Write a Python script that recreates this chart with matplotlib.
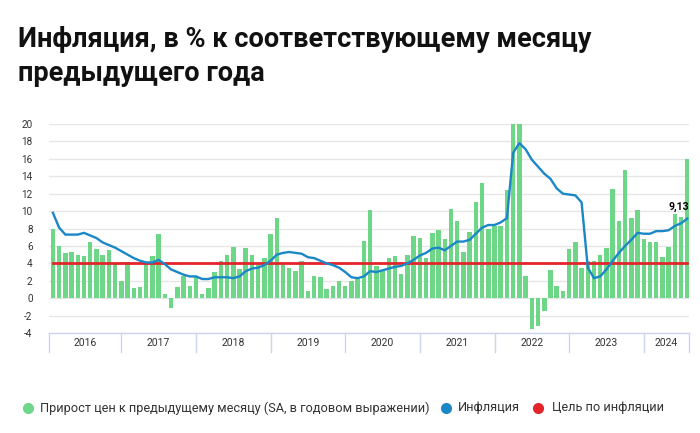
import matplotlib
matplotlib.use("Agg")
import matplotlib.pyplot as plt
from matplotlib.lines import Line2D
import matplotlib.transforms as mtransforms
import numpy as np

years = ["2016", "2017", "2018", "2019", "2020", "2021", "2022", "2023", "2024"]

mom_saar = [
    7.9, 6.0, 5.2, 5.3, 5.0, 4.8, 6.4, 5.7, 4.9, 5.5, 3.9, 2.0,      # 2016
    4.1, 1.2, 1.3, 4.1, 4.8, 7.4, 0.5, -1.1, 1.3, 2.5, 1.4, 2.5,     # 2017
    0.5, 1.2, 3.05, 4.3, 4.9, 5.9, 3.4, 5.75, 4.95, 3.9, 4.6, 7.35,  # 2018
    9.2, 3.85, 3.45, 3.15, 4.3, 0.8, 2.5, 2.4, 1.0, 1.4, 2.0, 1.4,   # 2019
    1.95, 2.2, 6.55, 10.1, 3.7, 3.15, 4.65, 4.8, 2.8, 4.95, 7.1, 6.9,  # 2020
    4.65, 7.5, 7.8, 6.8, 10.25, 8.9, 5.25, 7.6, 11.1, 13.2, 8.0, 8.3,  # 2021
    8.3, 12.4, 20.0, 20.0, 2.6, -3.5, -3.25, -1.45, 3.2, 1.35, 0.85, 5.6,  # 2022
    6.45, 3.5, 4.3, 4.25, 5.0, 5.75, 12.5, 8.9, 14.7, 9.2, 10.1, 6.75,  # 2023
    6.4, 6.45, 4.7, 5.85, 9.7, 9.3, 15.95,                            # 2024
]

inflation = [
    9.8, 8.1, 7.3, 7.3, 7.3, 7.5, 7.2, 6.9, 6.4, 6.1, 5.8, 5.4,
    5.0, 4.6, 4.3, 4.1, 4.1, 4.4, 3.9, 3.3, 3.0, 2.7, 2.5, 2.5,
    2.2, 2.2, 2.4, 2.4, 2.4, 2.3, 2.5, 3.1, 3.4, 3.5, 3.8, 4.3,
    5.0, 5.2, 5.3, 5.2, 5.1, 4.7, 4.6, 4.3, 4.0, 3.8, 3.5, 3.0,
    2.4, 2.3, 2.5, 3.1, 3.0, 3.2, 3.4, 3.6, 3.7, 4.0, 4.4, 4.9,
    5.2, 5.7, 5.8, 5.5, 6.0, 6.5, 6.5, 6.7, 7.4, 8.1, 8.4, 8.4,
    8.7, 9.2, 16.7, 17.8, 17.1, 15.9, 15.1, 14.3, 13.7, 12.6, 12.0, 11.9,
    11.8, 11.0, 3.5, 2.3, 2.5, 3.3, 4.3, 5.2, 6.0, 6.7, 7.5, 7.4,
    7.4, 7.7, 7.7, 7.8, 8.3, 8.6, 9.13,
]

target = [4.0] * len(inflation)

yticks = [-4, -2, 0, 2, 4, 6, 8, 10, 12, 14, 16, 18, 20]
last_label = "9,13"

legend_labels = ["Прирост цен к предыдущему месяцу (SA, в годовом выражении)",
                 "Инфляция", "Цель по инфляции"]

GREEN = "#6dd687"
BLUE = "#1b87c6"
RED = "#e3242b"
GRID = "#e6e6e6"
AXIS = "#ccd6eb"
TXT = "#333333"

plt.rcParams['font.family'] = ['Roboto', 'DejaVu Sans']

W, H = 700, 433
fig = plt.figure(figsize=(W / 100, H / 100), dpi=100)
ax = fig.add_axes([49.3 / W, 1 - 333 / H, (689 - 49.3) / W, (333 - 124) / H])

x = np.arange(len(mom_saar))
ax.bar(x, mom_saar, width=0.72, color=GREEN, zorder=2, linewidth=0)
ax.plot(np.arange(len(target)), target, color=RED, lw=2.0, zorder=3)
ax.plot(np.arange(len(inflation)), inflation, color=BLUE, lw=1.7, zorder=4,
        solid_joinstyle='round')

ax.set_xlim(-0.58, len(mom_saar) - 1 + 0.27)
ax.set_ylim(-4, 20)
ax.set_yticks(yticks)
ax.set_yticklabels([str(v) for v in yticks], fontsize=7.2, color=TXT)
ax.tick_params(axis='y', length=0, pad=12)
ax.tick_params(axis='x', length=0)
ax.set_xticks([])
for s in ['top', 'right', 'left']:
    ax.spines[s].set_visible(False)
ax.spines['bottom'].set_color(AXIS)
ax.spines['bottom'].set_linewidth(1.0)
ax.spines['bottom'].set_zorder(5)
ax.grid(axis='y', color=GRID, lw=1.0, zorder=0)
ax.set_axisbelow(True)

# year boxes below axis
trans = mtransforms.blended_transform_factory(ax.transData, ax.transAxes)
box_h = 19 / (333 - 124)
bounds = [-0.58] + [11 + 12 * k for k in range(len(years) - 1)] + [len(mom_saar) - 1 + 0.27]
for b in bounds:
    ax.add_line(Line2D([b, b], [0, -box_h], transform=trans, color=AXIS, lw=1.0, clip_on=False))
for k, yl in enumerate(years):
    cx = (bounds[k] + bounds[k + 1]) / 2
    ax.text(cx, -9.5 / (333 - 124), yl, transform=trans, ha='center', va='center',
            fontsize=7.5, color=TXT)

# last value label
ax.annotate(last_label, (x[-1], inflation[-1]), xytext=(1.5, 5), textcoords='offset points',
            ha='right', va='bottom', fontsize=7.5, fontweight='bold', color='#000000', zorder=6)

# title
fig.text(18 / W, 1 - 47 / H, "Инфляция, в % к соответствующему месяцу", fontsize=19.5,
         fontweight='bold', color='#111111', ha='left', va='baseline')
fig.text(18 / W, 1 - 81 / H, "предыдущего года", fontsize=19.5,
         fontweight='bold', color='#111111', ha='left', va='baseline')

# legend
ly = 1 - 408 / H
items = [(28, 40, GREEN), (446, 458, BLUE), (538, 552, RED)]
for (cx, tx, col), lab in zip(items, legend_labels):
    fig.add_artist(Line2D([cx / W], [ly], marker='o', markersize=8, color=col,
                          markeredgewidth=0, transform=fig.transFigure))
    fig.text(tx / W, ly, lab, fontsize=9.2, color=TXT, ha='left', va='center')

fig.savefig("out.png", dpi=100)
